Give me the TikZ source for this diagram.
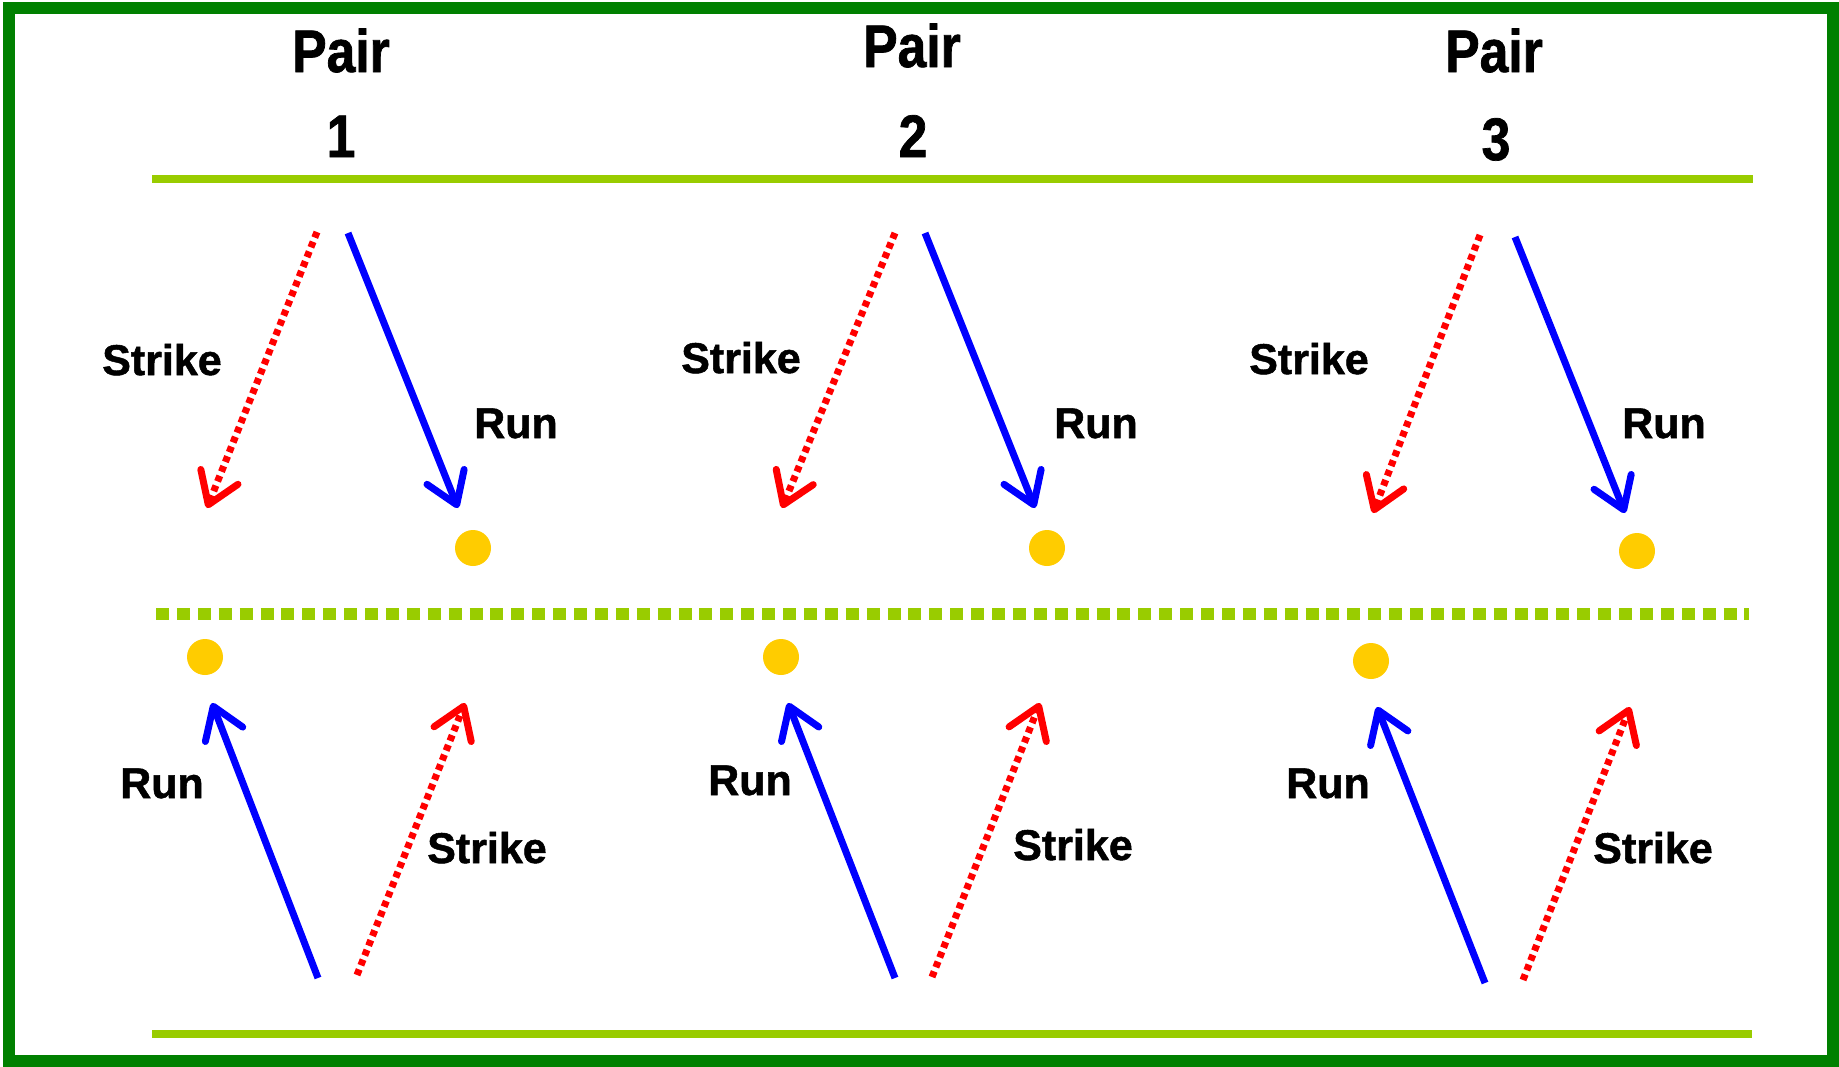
\documentclass[tikz,border=0pt]{standalone}
\usepackage{fontspec}
\setmainfont{Liberation Sans}
\newfontfamily\hdrfont[FakeStretch=0.86, FakeBold=1.2]{Liberation Sans Bold}
\newfontfamily\lblfont[FakeBold=1.2]{Liberation Sans Bold}
\usetikzlibrary{arrows.meta}
\definecolor{frameG}{HTML}{008000}
\definecolor{lineG}{HTML}{99CC00}
\definecolor{ballY}{HTML}{FFCC00}
\definecolor{runB}{HTML}{0000FF}
\definecolor{strR}{HTML}{FF0000}
\tikzset{
  hdr/.style={anchor=base, inner sep=0pt, font=\hdrfont\fontsize{60}{60}\selectfont},
  lbl/.style={anchor=base, inner sep=0pt, font=\lblfont\fontsize{43}{43}\selectfont},
  ball/.style={circle, fill=ballY, draw=none, minimum size=36pt, inner sep=0pt},
  tipbarb/.style={-{Straight Barb[length=30pt, width=40pt, line width=7pt, round]}},
  runarrow/.style={draw=runB, line width=7pt, tipbarb},
  strikearrow/.style={draw=strR, line width=7pt, dash pattern=on 6pt off 4.5pt, tipbarb},
  solidline/.style={draw=lineG, line width=8pt},
  dotline/.style={draw=lineG, line width=12pt, dash pattern=on 13pt off 7.9pt}
}
\begin{document}
\begin{tikzpicture}[x=1pt, y=-1pt]
\useasboundingbox (0,0) rectangle (1839,1066);
\fill[white] (0,0) rectangle (1839,1066);
\draw[frameG, line width=12pt] (8.5,7.5) rectangle (1833,1061);

% headers
\node[hdr] (p1) at (341,72) {Pair};
\node[hdr] (n1) at (341,157) {1};
\node[hdr] (p2) at (912,67) {Pair};
\node[hdr] (n2) at (913,157) {2};
\node[hdr] (p3) at (1494,72) {Pair};
\node[hdr] (n3) at (1496,160) {3};

% field lines
\coordinate (tl1) at (152,179); \coordinate (tl2) at (1753,179);
\coordinate (ml1) at (156,614); \coordinate (ml2) at (1749,614);
\coordinate (bl1) at (152,1034); \coordinate (bl2) at (1752,1034);
\draw[solidline] (tl1) -- (tl2);
\draw[dotline] (ml1) -- (ml2);
\draw[solidline] (bl1) -- (bl2);

% top pairs
\coordinate (tS1a) at (317,232); \coordinate (tS1b) at (207,508);
\coordinate (tR1a) at (348,233); \coordinate (tR1b) at (458,508);
\coordinate (tS2a) at (895,233); \coordinate (tS2b) at (782,508);
\coordinate (tR2a) at (925,233); \coordinate (tR2b) at (1035,508);
\coordinate (tS3a) at (1480,235); \coordinate (tS3b) at (1373,513);
\coordinate (tR3a) at (1515,237); \coordinate (tR3b) at (1625,513);
\draw[strikearrow] (tS1a) -- (tS1b);
\draw[runarrow] (tR1a) -- (tR1b);
\draw[strikearrow] (tS2a) -- (tS2b);
\draw[runarrow] (tR2a) -- (tR2b);
\draw[strikearrow] (tS3a) -- (tS3b);
\draw[runarrow] (tR3a) -- (tR3b);
\node[ball] (tb1) at (473,548) {};
\node[ball] (tb2) at (1047,548) {};
\node[ball] (tb3) at (1637,551) {};
\node[lbl] (tsl1) at (162,375) {Strike};
\node[lbl] (trl1) at (516,438) {Run};
\node[lbl] (tsl2) at (741,373) {Strike};
\node[lbl] (trl2) at (1096,438) {Run};
\node[lbl] (tsl3) at (1309,374) {Strike};
\node[lbl] (trl3) at (1664,438) {Run};

% bottom pairs
\coordinate (bR1a) at (318,978); \coordinate (bR1b) at (212,703);
\coordinate (bS1a) at (357,975); \coordinate (bS1b) at (465,703);
\coordinate (bR2a) at (895,978); \coordinate (bR2b) at (788,703);
\coordinate (bS2a) at (932,977); \coordinate (bS2b) at (1040,703);
\coordinate (bR3a) at (1485,983); \coordinate (bR3b) at (1377,707);
\coordinate (bS3a) at (1523,980); \coordinate (bS3b) at (1630,707);
\draw[runarrow] (bR1a) -- (bR1b);
\draw[strikearrow] (bS1a) -- (bS1b);
\draw[runarrow] (bR2a) -- (bR2b);
\draw[strikearrow] (bS2a) -- (bS2b);
\draw[runarrow] (bR3a) -- (bR3b);
\draw[strikearrow] (bS3a) -- (bS3b);
\node[ball] (bb1) at (205,657) {};
\node[ball] (bb2) at (781,657) {};
\node[ball] (bb3) at (1371,661) {};
\node[lbl] (brl1) at (162,798) {Run};
\node[lbl] (bsl1) at (487,863) {Strike};
\node[lbl] (brl2) at (750,795) {Run};
\node[lbl] (bsl2) at (1073,860) {Strike};
\node[lbl] (brl3) at (1328,798) {Run};
\node[lbl] (bsl3) at (1653,863) {Strike};
\end{tikzpicture}
\end{document}
